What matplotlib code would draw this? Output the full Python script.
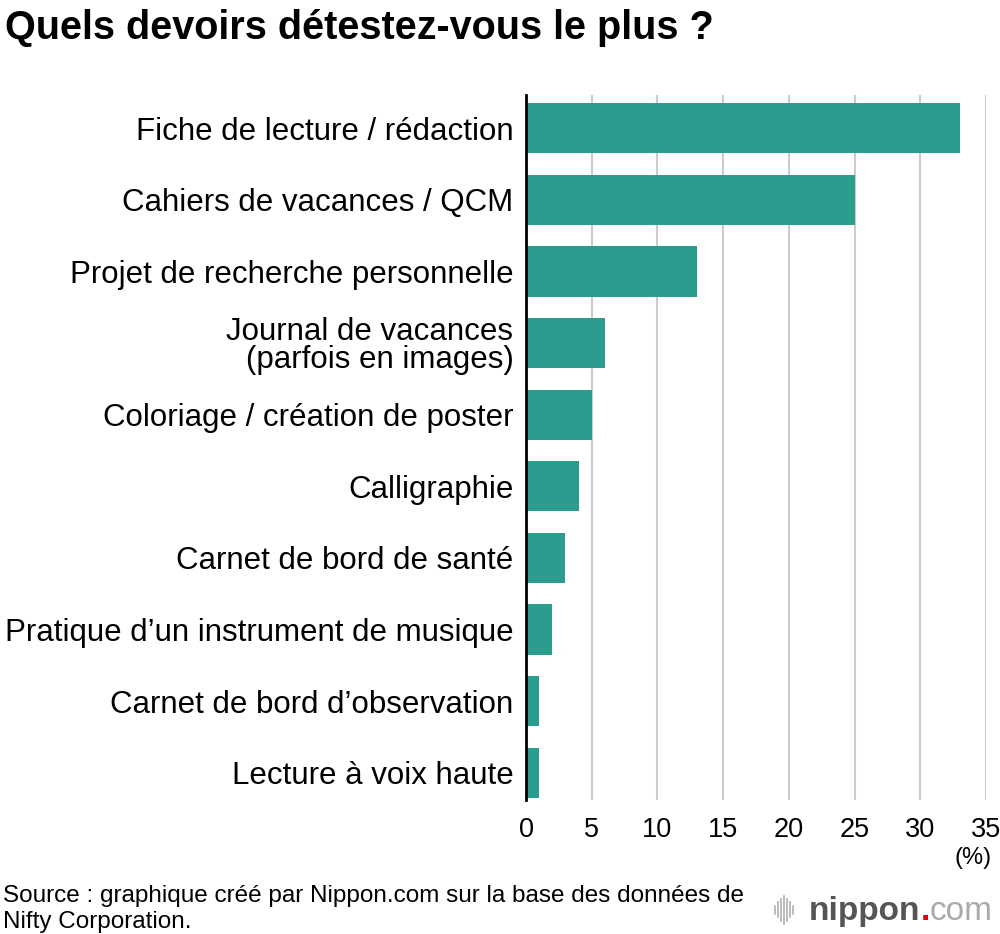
import numpy as np
import matplotlib.pyplot as plt

plt.rcParams['font.family'] = ['Liberation Sans', 'DejaVu Sans']

# data
categories = [
    "Fiche de lecture / rédaction",
    "Cahiers de vacances / QCM",
    "Projet de recherche personnelle",
    "Journal de vacances\n(parfois en images)",
    "Coloriage / création de poster",
    "Calligraphie",
    "Carnet de bord de santé",
    "Pratique d\u2019un instrument de musique",
    "Carnet de bord d\u2019observation",
    "Lecture à voix haute",
]
values = [33, 25, 13, 6, 5, 4, 3, 2, 1, 1]
xticks = [0, 5, 10, 15, 20, 25, 30, 35]

teal = "#2a9d8f"

fig = plt.figure(figsize=(10, 9.34), dpi=100)
ax = fig.add_axes([0.526, 0.1435, 0.46, 0.7545])

y = np.arange(len(categories))
ax.barh(y, values, height=0.7, color=teal, zorder=3)
ax.set_xlim(0, 35)
ax.set_ylim(9.38, -0.46)
ax.set_xticks(xticks)
ax.set_xticklabels([str(t) for t in xticks], fontsize=19.5)
ax.set_yticks(y)
ax.set_yticklabels(categories, fontsize=22.5, linespacing=0.95)
ax.tick_params(axis='both', length=0)
ax.tick_params(axis='y', pad=9)
ax.tick_params(axis='x', pad=12)
ax.grid(axis='x', color='#cccccc', linewidth=1.5, zorder=0)
for s in ['top', 'right', 'bottom']:
    ax.spines[s].set_visible(False)
ax.spines['left'].set_linewidth(2)
ax.spines['left'].set_zorder(4)

fig.text(0.005, 0.99, "Quels devoirs détestez-vous le plus ?", fontsize=28.5,
         fontweight='bold', va='top', ha='left')
fig.text(0.992, 0.081, "(%)", fontsize=17, ha='right', va='center')
fig.text(0.003, 0.027, "Source : graphique créé par Nippon.com sur la base des données de\nNifty Corporation.",
         fontsize=17.5, ha='left', va='center', linespacing=1.25)

# logo
t1 = fig.text(0.809, 0.015, "nippon", fontsize=24, fontweight='bold', color='#555555',
              ha='left', va='baseline')
dot = plt.annotate(".", xy=(1, 0), xycoords=t1, xytext=(0, 0), textcoords='offset points',
                   fontsize=24, fontweight='bold', color='#e60012', va='bottom')
plt.annotate("com", xy=(1, 0), xycoords=dot, xytext=(0, 0), textcoords='offset points',
             fontsize=24, color='#aaaaaa', va='bottom')
bar_h = [0.009, 0.016, 0.024, 0.030, 0.024, 0.016, 0.009]
for i, h in enumerate(bar_h):
    fig.add_artist(plt.Line2D([0.775 + i * 0.003] * 2, [0.026 - h / 2, 0.026 + h / 2],
                              color='#b0b0b0', linewidth=1.2))

fig.savefig("out.png", dpi=100)
